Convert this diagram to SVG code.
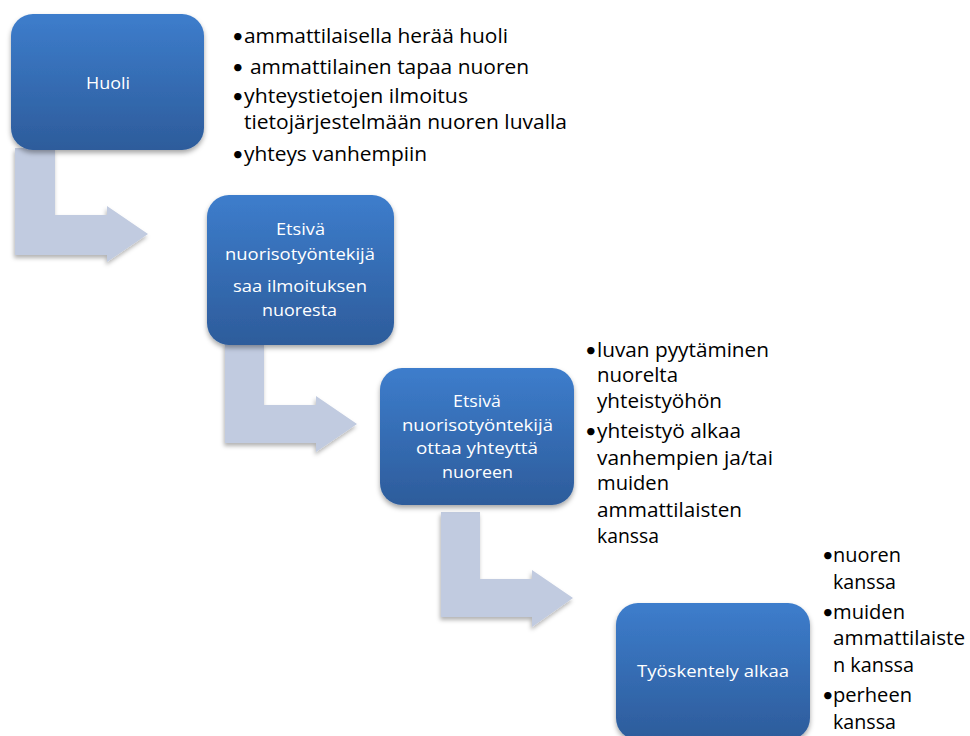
<svg xmlns="http://www.w3.org/2000/svg" width="970" height="736" viewBox="0 0 970 736">
<defs>
<linearGradient id="boxGrad" x1="0" y1="0" x2="0" y2="1">
<stop offset="0" stop-color="#3d7dcc"/>
<stop offset="1" stop-color="#2d5c9b"/>
</linearGradient>
<filter id="boxShadow" x="-10%" y="-10%" width="125%" height="130%">
<feDropShadow dx="0" dy="3" stdDeviation="2.5" flood-color="#000" flood-opacity="0.35"/>
</filter>
<filter id="arrowShadow" x="-10%" y="-10%" width="125%" height="130%">
<feDropShadow dx="-1" dy="3" stdDeviation="2" flood-color="#000" flood-opacity="0.3"/>
</filter>
</defs>
<style>
.box { fill: url(#boxGrad); filter: url(#boxShadow); }
.arrow { fill: #c1cbe0; filter: url(#arrowShadow); }
.lbl { font-family: "Open Sans", Lato, "Liberation Sans", sans-serif; font-size: 17px; fill: #ffffff; }
.lst { font-family: "Open Sans", Lato, "Liberation Sans", sans-serif; font-size: 20px; fill: #000000; }
.blt { font-family: Lato, "Liberation Sans", sans-serif; font-size: 20px; fill: #000000; }
</style>
<rect width="970" height="736" fill="#ffffff"/>
<g id="connectors">
<polygon class="arrow" points="15,148 55,148 55,215 107,215 107,206 148,234 107,262 107,255 15,255"/>
<polygon class="arrow" points="225,343 264,343 264,405 316,405 316,396 357,424 316,452 316,443 225,443"/>
<polygon class="arrow" points="441,512 480,512 480,579 532,579 532,570 573,598 532,627 532,617 441,617"/>
</g>
<g id="node-huoli">
<rect class="box" x="11" y="14" width="193" height="136" rx="22" ry="22"/>
<text class="lbl" x="86" y="89" textLength="44" lengthAdjust="spacingAndGlyphs">Huoli</text>
</g>
<g id="list-huoli">
<text class="blt" x="232" y="43">•</text>
<text class="lst" x="244" y="43" textLength="264" lengthAdjust="spacingAndGlyphs">ammattilaisella herää huoli</text>
<text class="blt" x="232" y="74">•</text>
<text class="lst" x="250" y="74" textLength="279" lengthAdjust="spacingAndGlyphs">ammattilainen tapaa nuoren</text>
<text class="blt" x="232" y="103">•</text>
<text class="lst" x="244" y="103" textLength="224" lengthAdjust="spacingAndGlyphs">yhteystietojen ilmoitus</text>
<text class="lst" x="244" y="129" textLength="323" lengthAdjust="spacingAndGlyphs">tietojärjestelmään nuoren luvalla</text>
<text class="blt" x="232" y="161">•</text>
<text class="lst" x="244" y="161" textLength="183" lengthAdjust="spacingAndGlyphs">yhteys vanhempiin</text>
</g>
<g id="node-ilmoitus">
<rect class="box" x="207" y="195" width="187" height="150" rx="22" ry="22"/>
<text class="lbl" x="276" y="235" textLength="49" lengthAdjust="spacingAndGlyphs">Etsivä</text>
<text class="lbl" x="225" y="260" textLength="150" lengthAdjust="spacingAndGlyphs">nuorisotyöntekijä</text>
<text class="lbl" x="233" y="292" textLength="134" lengthAdjust="spacingAndGlyphs">saa ilmoituksen</text>
<text class="lbl" x="262" y="316" textLength="75" lengthAdjust="spacingAndGlyphs">nuoresta</text>
</g>
<g id="node-yhteys">
<rect class="box" x="380" y="368" width="194" height="137" rx="22" ry="22"/>
<text class="lbl" x="453" y="407" textLength="48" lengthAdjust="spacingAndGlyphs">Etsivä</text>
<text class="lbl" x="402" y="431" textLength="151" lengthAdjust="spacingAndGlyphs">nuorisotyöntekijä</text>
<text class="lbl" x="416" y="454" textLength="122" lengthAdjust="spacingAndGlyphs">ottaa yhteyttä</text>
<text class="lbl" x="442" y="478" textLength="71" lengthAdjust="spacingAndGlyphs">nuoreen</text>
</g>
<g id="list-yhteys">
<text class="blt" x="585" y="357">•</text>
<text class="lst" x="597" y="357" textLength="172" lengthAdjust="spacingAndGlyphs">luvan pyytäminen</text>
<text class="lst" x="597" y="382" textLength="81" lengthAdjust="spacingAndGlyphs">nuorelta</text>
<text class="lst" x="597" y="408" textLength="125" lengthAdjust="spacingAndGlyphs">yhteistyöhön</text>
<text class="blt" x="585" y="438">•</text>
<text class="lst" x="597" y="438" textLength="144" lengthAdjust="spacingAndGlyphs">yhteistyö alkaa</text>
<text class="lst" x="597" y="465" textLength="176" lengthAdjust="spacingAndGlyphs">vanhempien ja/tai</text>
<text class="lst" x="597" y="490" textLength="72" lengthAdjust="spacingAndGlyphs">muiden</text>
<text class="lst" x="597" y="517" textLength="145" lengthAdjust="spacingAndGlyphs">ammattilaisten</text>
<text class="lst" x="597" y="543" textLength="62" lengthAdjust="spacingAndGlyphs">kanssa</text>
</g>
<g id="node-tyoskentely">
<rect class="box" x="616" y="603" width="194" height="137" rx="22" ry="22"/>
<text class="lbl" x="637" y="677" textLength="152" lengthAdjust="spacingAndGlyphs">Työskentely alkaa</text>
</g>
<g id="list-tyoskentely">
<text class="blt" x="822" y="562">•</text>
<text class="lst" x="833" y="562" textLength="68" lengthAdjust="spacingAndGlyphs">nuoren</text>
<text class="lst" x="833" y="589" textLength="63" lengthAdjust="spacingAndGlyphs">kanssa</text>
<text class="blt" x="822" y="619">•</text>
<text class="lst" x="833" y="619" textLength="72" lengthAdjust="spacingAndGlyphs">muiden</text>
<text class="lst" x="833" y="645" textLength="132" lengthAdjust="spacingAndGlyphs">ammattilaiste</text>
<text class="lst" x="833" y="672" textLength="81" lengthAdjust="spacingAndGlyphs">n kanssa</text>
<text class="blt" x="822" y="702">•</text>
<text class="lst" x="833" y="702" textLength="79" lengthAdjust="spacingAndGlyphs">perheen</text>
<text class="lst" x="833" y="729" textLength="63" lengthAdjust="spacingAndGlyphs">kanssa</text>
</g>
</svg>
